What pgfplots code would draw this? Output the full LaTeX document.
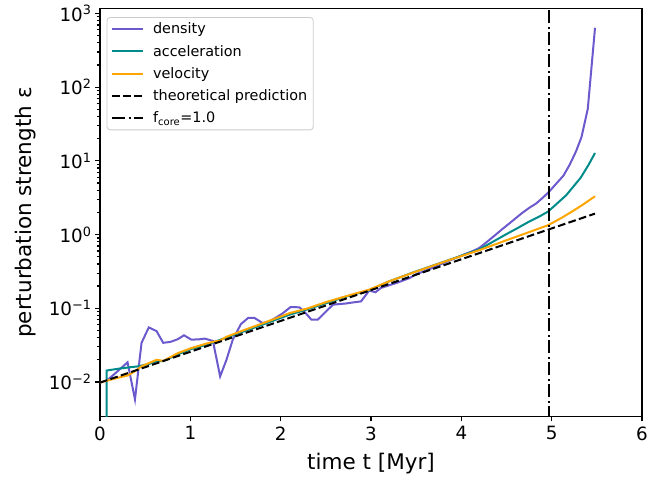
\documentclass[border=0pt]{standalone}
\usepackage{pgfplots}
\pgfplotsset{compat=1.18}
\usepackage{fontspec}
\setmainfont{DejaVu Sans}
\definecolor{cdens}{HTML}{6A5ACD}
\definecolor{cacc}{HTML}{008B8B}
\definecolor{cvel}{HTML}{FFA500}
\begin{document}
\begin{tikzpicture}
\useasboundingbox (-100pt,-62.5pt) rectangle (566pt,416.5pt);
\begin{axis}[
  scale only axis, width=542pt, height=408pt,
  xmin=0, xmax=6, ymode=log, ymin=0.0034, ymax=1169,
  xtick={0,1,2,3,4,5,6}, minor x tick num=0,
  ytick={0.01,0.1,1,10,100,1000},
  yticklabels={10\textsuperscript{−2},10\textsuperscript{−1},10\textsuperscript{0},10\textsuperscript{1},10\textsuperscript{2},10\textsuperscript{3}},
  /pgf/number format/assume math mode=true,
  tick align=outside, tick pos=left,
  axis line style={line width=1.5pt},
  major tick length=5pt, minor tick length=3pt,
  every tick/.style={black, line width=1.2pt},
  tick label style={font=\fontsize{18.3}{21}\selectfont},
  xticklabel style={yshift=-1.5pt},
  xlabel={time t [Myr]},
  ylabel={perturbation strength ε},
  label style={font=\fontsize{21.5}{24}\selectfont},
  xlabel style={at={(axis description cs:0.5,-0.115)}, anchor=center},
  ylabel style={at={(axis description cs:-0.138,0.5)}, anchor=center},
  legend image code/.code={\draw[#1] (0pt,0pt) -- (31pt,0pt);},
  legend cell align=left,
  legend style={at={(0.0123,0.979)}, anchor=north west,
    font=\fontsize{14.4}{16}\selectfont, draw=black!20, line width=0.8pt,
    rounded corners=3pt, fill=white, row sep=6.8pt, column sep=7pt,
    inner xsep=4pt, inner ysep=4pt,
    nodes={inner ysep=1.5pt}},
]
\addplot[cdens, line width=2pt] coordinates {
(0.073,0.0104) (0.150,0.0125) (0.228,0.0152) (0.305,0.0185) (0.387,0.0058)
(0.460,0.034) (0.540,0.055) (0.626,0.049) (0.700,0.034) (0.780,0.035)
(0.860,0.038) (0.930,0.043) (1.010,0.0376) (1.090,0.0378) (1.160,0.0388)
(1.250,0.036) (1.330,0.0119) (1.400,0.020) (1.470,0.0376) (1.560,0.061)
(1.640,0.074) (1.710,0.074) (1.800,0.063) (1.880,0.067) (1.950,0.075)
(2.020,0.085) (2.110,0.104) (2.210,0.103) (2.280,0.085) (2.340,0.070)
(2.410,0.070) (2.500,0.090) (2.580,0.112) (2.650,0.114) (2.720,0.116)
(2.800,0.120) (2.890,0.124) (2.980,0.174) (3.050,0.165) (3.110,0.189)
(3.200,0.205) (3.280,0.220) (3.350,0.237) (3.430,0.258) (3.500,0.290)
(3.580,0.315) (3.660,0.345) (3.740,0.380) (3.820,0.420) (3.900,0.460)
(3.970,0.500) (4.050,0.550) (4.130,0.600) (4.200,0.660) (4.280,0.790)
(4.360,0.950) (4.440,1.15) (4.520,1.38) (4.600,1.66) (4.670,1.95)
(4.750,2.30) (4.830,2.65) (4.900,3.15) (4.970,3.80) (5.050,4.90)
(5.130,6.30) (5.200,8.90) (5.270,13.5) (5.330,21.0) (5.400,51.0) (5.480,640)
};
\addlegendentry{density}
\addplot[cacc, line width=2pt] coordinates {
(0.073,0.0010) (0.073,0.0143) (0.230,0.0153) (0.420,0.0163) (0.540,0.0175)
(0.626,0.0192) (0.700,0.0192) (0.865,0.0238) (1.010,0.0280) (1.160,0.0315)
(1.400,0.0400) (1.600,0.0490) (1.800,0.0600) (2.100,0.0820) (2.300,0.0970)
(2.500,0.117) (2.700,0.141) (2.980,0.176) (3.200,0.232) (3.500,0.317)
(3.850,0.446) (4.200,0.630) (4.350,0.800) (4.490,1.00) (4.620,1.22)
(4.750,1.50) (4.860,1.75) (4.960,2.05) (5.160,3.41) (5.320,5.88)
(5.410,8.90) (5.480,12.8)
};
\addlegendentry{acceleration}
\addplot[cvel, line width=2pt] coordinates {
(0.000,0.0098) (0.150,0.0110) (0.310,0.0123) (0.387,0.0140) (0.460,0.0163)
(0.540,0.0180) (0.626,0.0200) (0.700,0.0193) (0.865,0.0247) (1.010,0.0288)
(1.160,0.0327) (1.250,0.0350) (1.330,0.0365) (1.400,0.0410) (1.600,0.0509)
(1.800,0.0624) (2.100,0.0860) (2.300,0.0998) (2.500,0.121) (2.700,0.143)
(2.980,0.179) (3.200,0.232) (3.500,0.315) (3.850,0.444) (4.200,0.615)
(4.490,0.830) (4.750,1.08) (4.960,1.34) (5.100,1.66) (5.230,2.07)
(5.350,2.57) (5.480,3.31)
};
\addlegendentry{velocity}
\addplot[black, line width=2pt, dash pattern=on 7.7pt off 3.3pt] coordinates {
(0.000,0.0098) (5.480,1.926)
};
\addlegendentry{theoretical prediction}
\addplot[black, line width=2pt, dash pattern=on 13.3pt off 3.3pt on 2.1pt off 3.3pt] coordinates {
(4.97,0.0001) (4.97,10000)
};
\addlegendentry{f\textsubscript{core}=1.0}
\end{axis}
\end{tikzpicture}
\end{document}
